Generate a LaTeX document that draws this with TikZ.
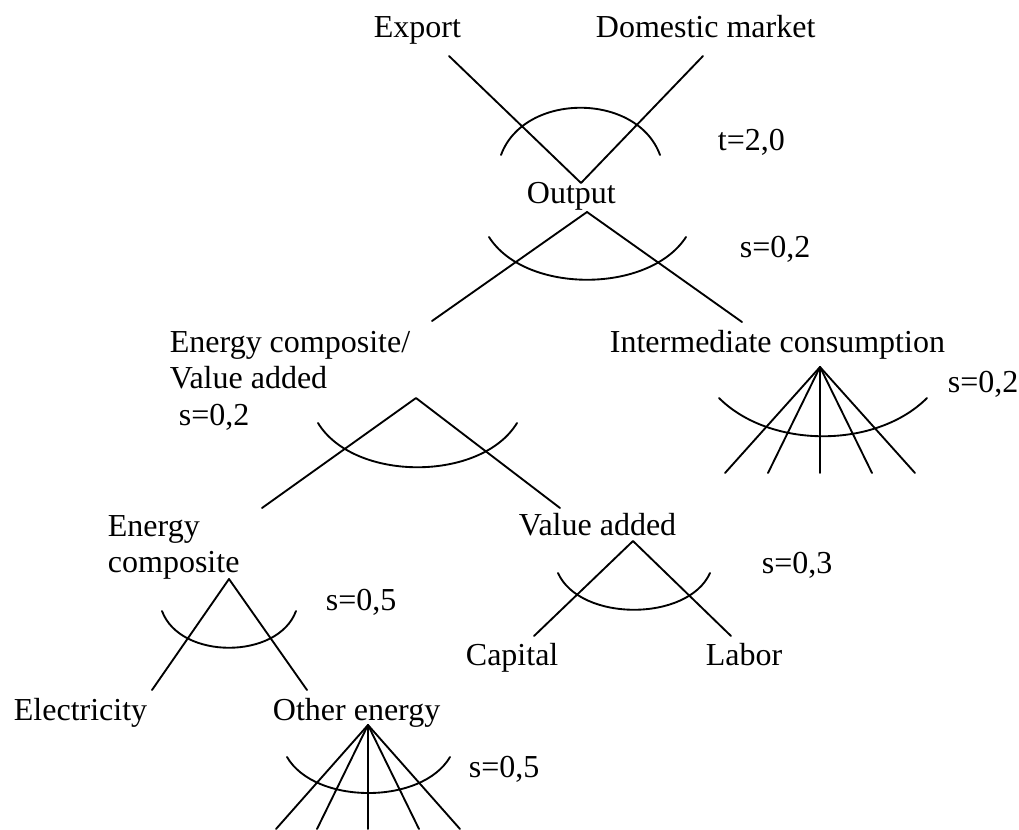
\documentclass[tikz,border=0pt]{standalone}
\usepackage{fontspec}
\setmainfont{Liberation Serif}
\begin{document}
\begin{tikzpicture}[x=0.75pt,y=-0.75pt,line width=1.4pt,
  lbl/.style={inner sep=0pt,anchor=base west,align=left,font=\fontsize{24}{27}\selectfont},
  nest/.style={line cap=round,line join=round}]
\useasboundingbox (0,0) rectangle (1019,829);
% labels (base of the last line)
\node[lbl] (export) at (373,37) {Export};
\node[lbl] (domestic) at (595,37) {Domestic market};
\node[lbl] (ttop) at (717,150) {t=2,0};
\node[lbl] (output) at (526,203) {Output};
\node[lbl] (sout) at (739,257) {s=0,2};
\node[lbl] (ecva) at (169,388) {Energy composite/\\Value added};
\node[lbl] (secva) at (178,425) {s=0,2};
\node[lbl] (inter) at (609,352) {Intermediate consumption};
\node[lbl] (sinter) at (947,392) {s=0,2};
\node[lbl] (energy) at (107,572) {Energy\\composite};
\node[lbl] (senergy) at (325,610) {s=0,5};
\node[lbl] (va) at (518,535) {Value added};
\node[lbl] (sva) at (761,573) {s=0,3};
\node[lbl] (capital) at (465,665) {Capital};
\node[lbl] (labor) at (705,665) {Labor};
\node[lbl] (elec) at (13,720) {Electricity};
\node[lbl] (other) at (272,720) {Other energy};
\node[lbl] (sother) at (468,777) {s=0,5};
% branch points
\coordinate (topapex) at (581,183);
\coordinate (outapex) at (587,212);
\coordinate (ecvaapex) at (416,398);
\coordinate (interapex) at (820,367);
\coordinate (enapex) at (229,579);
\coordinate (vaapex) at (633,541);
\coordinate (othapex) at (368,725);
\coordinate (exportend) at (449,56);
\coordinate (domend) at (703,56);
\coordinate (ecvaend) at (432,321);
\coordinate (interend) at (742,322);
\coordinate (enend) at (262,508);
\coordinate (vaend) at (560,508);
\coordinate (elecend) at (152,690);
\coordinate (othend) at (307,690);
\coordinate (capend) at (534,636);
\coordinate (labend) at (731,636);
% branches
\draw[nest] (exportend) -- (topapex) -- (domend);
\draw[nest] (ecvaend) -- (outapex) -- (interend);
\draw[nest] (enend) -- (ecvaapex) -- (vaend);
\draw[nest] (elecend) -- (enapex) -- (othend);
\draw[nest] (capend) -- (vaapex) -- (labend);
\foreach \dx [count=\i] in {-95,-52,0,52,95} {
  \coordinate (inter\i) at ([xshift=\dx*0.75pt]interapex |- 0,473);
  \draw[nest] (interapex) -- (inter\i);
}
\foreach \dx [count=\i] in {-92,-51,0,51,92} {
  \coordinate (oth\i) at ([xshift=\dx*0.75pt]othapex |- 0,829);
  \draw[nest] (othapex) -- (oth\i);
}
% elasticity arcs
\draw[nest] (501,155) .. controls (524,92) and (637,92) .. (660,155);
\draw[nest] (489,237) .. controls (525,294) and (649,294) .. (686,237);
\draw[nest] (318,423) .. controls (354,482) and (481,482) .. (517,423);
\draw[nest] (719,398) .. controls (770,449) and (876,449) .. (927,398);
\draw[nest] (162,611) .. controls (180,660) and (278,660) .. (296,611);
\draw[nest] (558,573) .. controls (580,622) and (688,622) .. (710,573);
\draw[nest] (287,757) .. controls (315,805) and (422,805) .. (450,757);
\end{tikzpicture}
\end{document}
